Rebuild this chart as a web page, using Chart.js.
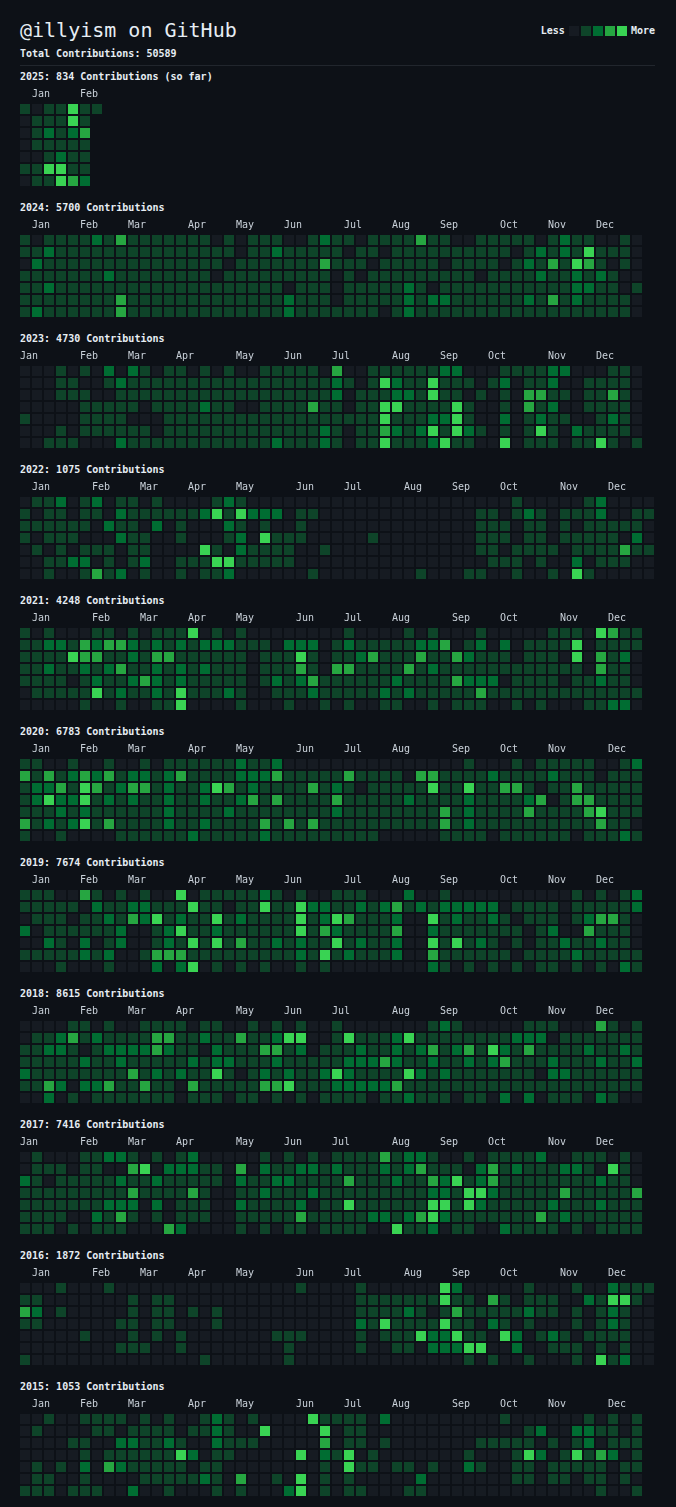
<!DOCTYPE html>
<html>
<head>
<meta charset="utf-8">
<script src="https://cdn.jsdelivr.net/npm/chart.js@4.4.1/dist/chart.umd.min.js"></script>
<style>
  html, body { margin: 0; padding: 0; background: #0d1117; }
  body { width: 676px; height: 1507px; position: relative; overflow: hidden;
         font-family: "DejaVu Sans Mono", "Liberation Mono", monospace; color: #e6edf3; }
  .title { position: absolute; left: 20px; top: 18px; font-size: 20px; line-height: 24px; }
  .total { position: absolute; left: 20px; top: 48px; font-size: 10px; line-height: 12px; font-weight: bold; }
  .rule { position: absolute; left: 20px; top: 65px; width: 635px; height: 1px; background: #21262d; }
  .legend { position: absolute; right: 21px; top: 25px; display: flex; align-items: center;
            font-size: 10px; line-height: 12px; font-weight: bold; }
  .legend i { width: 10px; height: 10px; margin-right: 2px; display: inline-block; }
  .legend .less { margin-right: 4px; }
  .legend .more { margin-left: 2px; }
  .year { position: absolute; left: 20px; font-size: 10px; line-height: 12px; font-weight: bold; }
  canvas.cal { position: absolute; left: 0; }
</style>
</head>
<body>
<div class="title">@illyism on GitHub</div>
<div class="legend" id="legend"><span class="less">Less</span></div>
<div class="total">Total Contributions: 50589</div>
<div class="rule"></div>

<script>
// ---- datos ----
const LEVEL_COLORS = ['#161b22', '#0e4429', '#006d32', '#26a641', '#39d353'];
const MONTHS = ['Jan', 'Feb', 'Mar', 'Apr', 'May', 'Jun', 'Jul', 'Aug', 'Sep', 'Oct', 'Nov', 'Dec'];
const TOTAL = 50589;

const years = [2025, 2024, 2023, 2022, 2021, 2020, 2019, 2018, 2017, 2016, 2015];
const totals = [834, 5700, 4730, 1075, 4248, 6783, 7674, 8615, 7416, 1872, 1053];

// columna (semana) donde empieza cada etiqueta de mes
const monthCols = {
  2025: [1, 5],
  2024: [1, 5, 9, 14, 18, 22, 27, 31, 35, 40, 44, 48],
  2023: [0, 5, 9, 13, 18, 22, 26, 31, 35, 39, 44, 48],
  2022: [1, 6, 10, 14, 18, 23, 27, 32, 36, 40, 45, 49],
  2021: [1, 6, 10, 14, 18, 23, 27, 31, 36, 40, 45, 49],
  2020: [1, 5, 9, 14, 18, 23, 27, 31, 36, 40, 44, 49],
  2019: [1, 5, 9, 14, 18, 22, 27, 31, 35, 40, 44, 48],
  2018: [1, 5, 9, 13, 18, 22, 26, 31, 35, 40, 44, 48],
  2017: [0, 5, 9, 13, 18, 22, 26, 31, 35, 39, 44, 48],
  2016: [1, 6, 10, 14, 18, 23, 27, 32, 36, 40, 45, 49],
  2015: [1, 5, 9, 14, 18, 23, 27, 31, 36, 40, 44, 49]
};

// niveles 0-4 por dia, una fila por dia de la semana (Dom..Sab), una cifra por semana
const levels2025 = ['1011411', '011141', '012123', '011111', '001211', '114411', '011432'];

const levels2024 = [
  '1011112131111111 01011100 12110111 13110011 11101211 0010',
  '1121111111111111 11011211 11101101 11111111 10121214 1110',
  '0211111111111111 10111111 13111011 11101111 01213143 1010',
  '1111111211111111 01111111 11010111 11111101 11121121 2100',
  '1121111111111111 11111101 11011111 21011111 11111122 1101',
  '1111111131111111 11111121 11011111 21221111 11213121 1110',
  '1211111131111111 11111121 11111101 21111111 11111111 1110'
];

const levels2023 = [
  '0001010202101101 01001111 10300111 11122000 11112200 0110',
  '0001100121111111 11111111 11210142 11411101 20112001 1110',
  '0001110011111111 11111111 11201112 21411010 10331101 1310',
  '0000011111011112 11001111 31101144 11114100 10312001 1110',
  '1000011110001111 11111111 11111141 11224100 20121100 1210',
  '0001011111101111 11111111 12101132 12414210 10141021 1110',
  '0011100021111111 11111211 12101141 11241100 40111011 4101'
];

const levels2022 = [
  '0112012011010000 12100000 00000000 00000000 01000001 20000',
  '1011011021111112 41422201 10000000 00000011 01210111 20011',
  '1111110211020100 02101001 00000000 00000011 10110101 11110',
  '1011100021100100 01204111 00000100 00000011 10110111 11020',
  '0101011101100004 10211110 01000000 00000011 01111011 11311',
  '0011220101200111 44111110 00000000 00000001 11010020 11100',
  '0010013120100101 12000000 10000000 01000110 01001041 00000'
];

const levels2021 = [
  '1010001101011140 10100000 00010000 10100010 00001110 4311',
  '1122132332121212 22111022 20121111 12230120 20111140 1111',
  '1111433112133111 11101114 10112311 13113211 10111040 3120',
  '1121121231121212 11101113 10331111 31211111 11111110 3110',
  '1111012112321211 11101212 31111112 11113222 01111011 2110',
  '0111114121121411 12100111 21111121 21111131 11111111 1111',
  '0000010010011400 00100010 01010011 00101110 01010001 1220'
];

const levels2020 = [
  '1100100100101111 11211200 00000000 00000100 01011111 0012',
  '3131232312212311 11222311 11131111 03311112 11112111 0111',
  '1223143123312112 43121111 31210111 11411411 33101131 1111',
  '1242241212112112 11231311 11311111 21111211 11230133 1111',
  '1112121111112111 12111111 11211111 11131211 11311113 4111',
  '3121241311112112 11113131 31111111 11131211 11111111 3110',
  '1001000011111121 11112111 11111100 00011110 11111101 1121'
];

const levels2019 = [
  '1110031010100401 11112101 00111000 20010000 00000010 1012',
  '1111102112211141 10114114 22112123 12122222 01111011 1112',
  '0111011213241211 41211114 12431112 00412112 10111012 3310',
  '2011111120012411 21111114 13211113 00211111 11012003 1110',
  '0021020120012141 41311212 11412112 00414121 01011211 2110',
  '1111121200133311 11111112 14121112 00311111 10111121 1111',
  '0001000100020240 10101001 01000000 00210101 01011010 1021'
];

const levels2018 = [
  '0000110100111101 10010101 00100000 00121000 00111000 3101',
  '0112312111133112 11311244 00141112 41111111 12220111 1111',
  '1122101222232110 21113312 01112112 12312314 21311112 1121',
  '1111121121111121 22111211 11122232 11211212 31112111 2112',
  '2111111113121211 41012121 12421111 42121111 11102211 1111',
  '1132022311311031 11113341 11222223 11111111 11111111 1111',
  '0020101111111011 10110101 01111011 21110110 20201110 2100'
];

const levels2017 = [
  '0100011221010120 00001010 10111131 22100101 11120011 1010',
  '0111011003402221 10302112 21211121 23111023 12111221 0410',
  '2101111121121111 10211221 11131112 11324123 11111111 2110',
  '1111111113111131 00112111 21111111 11221442 11111311 1113',
  '1111111222020111 00211112 01141111 11441421 11112111 2111',
  '1111002131010111 00111113 11111221 23421111 11131211 1111',
  '1110101110003200 00101011 01111004 11201100 21111010 1111'
];

const levels2016 = [
  '0001000100000000 00000001 00001000 00042000 00100010 02111',
  '1100000001011000 00000000 00001111 11141103 10111002 14410',
  '3201000001011010 10000000 00001111 21013111 11211010 12100',
  '1100000011011000 10000000 00002141 11141102 10100010 12100',
  '0000010001010100 00000111 00001011 14224110 42012101 11100',
  '0000000011100100 00000010 00001001 10222440 02001110 10100',
  '1000000000000001 00000010 00000000 00000101 00100010 41200'
];

const levels2015 = [
  '0010011110101001 21010000 41111020 00000000 10000001 0101',
  '0100001101111011 21004000 04011000 00000000 00120022 1101',
  '0000110022112100 21110000 03011010 00000011 11101012 0111',
  '0000010111111420 11000004 02140100 00000100 01420141 3201',
  '0101020321111101 10000000 01041101 10100210 01101111 1011',
  '0110010000111112 10300104 01010000 02000000 01101101 1010',
  '1110111002001000 10100024 01011000 11000000 00000000 1001'
];

const levelsByYear = {
  2025: levels2025, 2024: levels2024, 2023: levels2023, 2022: levels2022,
  2021: levels2021, 2020: levels2020, 2019: levels2019, 2018: levels2018,
  2017: levels2017, 2016: levels2016, 2015: levels2015
};

// ---- leyenda ----
const legend = document.getElementById('legend');
LEVEL_COLORS.forEach(c => {
  const sq = document.createElement('i');
  sq.style.background = c;
  legend.appendChild(sq);
});
const more = document.createElement('span');
more.className = 'more';
more.textContent = 'More';
legend.appendChild(more);

const FONT = '"DejaVu Sans Mono", "Liberation Mono", monospace';

// ---- un calendario por año ----
function drawYear(idx) {
  const year = years[idx];
  const top = 77 + 131 * idx;
  const rows = levelsByYear[year].map(r => r.replace(/ /g, ''));
  const cols = monthCols[year];

  const head = document.createElement('div');
  head.className = 'year';
  head.style.top = (top - 6) + 'px';
  head.textContent = year + ': ' + totals[idx] + ' Contributions' + (idx === 0 ? ' (so far)' : '');
  document.body.appendChild(head);

  const weeks = Math.max(...rows.map(r => r.length));
  const points = [];
  rows.forEach((r, day) => {
    for (let w = 0; w < r.length; w++) {
      points.push({ x: w, y: day, v: +r[w] });
    }
  });

  const cv = document.createElement('canvas');
  cv.className = 'cal';
  cv.width = 19 + 12 * weeks + 40;
  cv.height = 100;
  cv.style.top = (top + 10) + 'px';
  document.body.appendChild(cv);

  new Chart(cv, {
    type: 'scatter',
    data: {
      datasets: [{
        data: points,
        backgroundColor: ctx => LEVEL_COLORS[(ctx.raw && ctx.raw.v) || 0],
        pointStyle: 'rect',
        pointRadius: 5 * Math.SQRT2,
        pointHoverRadius: 5 * Math.SQRT2,
        borderWidth: 0,
        hoverBorderWidth: 0,
        clip: false
      }]
    },
    options: {
      responsive: false,
      animation: false,
      events: [],
      layout: { autoPadding: false, padding: { left: 19, right: 40, top: 0, bottom: 0 } },
      plugins: { legend: { display: false }, tooltip: { enabled: false } },
      scales: {
        x: {
          type: 'linear',
          position: 'top',
          bounds: 'data',
          min: -0.5,
          max: weeks - 0.5,
          grid: { display: false, drawTicks: false },
          border: { display: false },
          afterBuildTicks: s => {
            s.ticks = cols.map(c => ({ value: c - 5 / 12 }));
            s.min = -0.5;
            s.max = weeks - 0.5;
          },
          afterFit: s => { s.height = 16; },
          ticks: {
            align: 'start',
            padding: 3,
            autoSkip: false,
            maxRotation: 0,
            color: '#c9d1d9',
            font: { family: FONT, size: 10 },
            callback: (v, i) => MONTHS[i]
          }
        },
        y: {
          display: false,
          bounds: 'data',
          min: -0.5,
          max: 6.5,
          reverse: true,
          afterBuildTicks: s => { s.min = -0.5; s.max = 6.5; }
        }
      }
    }
  });
}

document.addEventListener('DOMContentLoaded', () => {
  years.forEach((y, i) => drawYear(i));
});
</script>
</body>
</html>
